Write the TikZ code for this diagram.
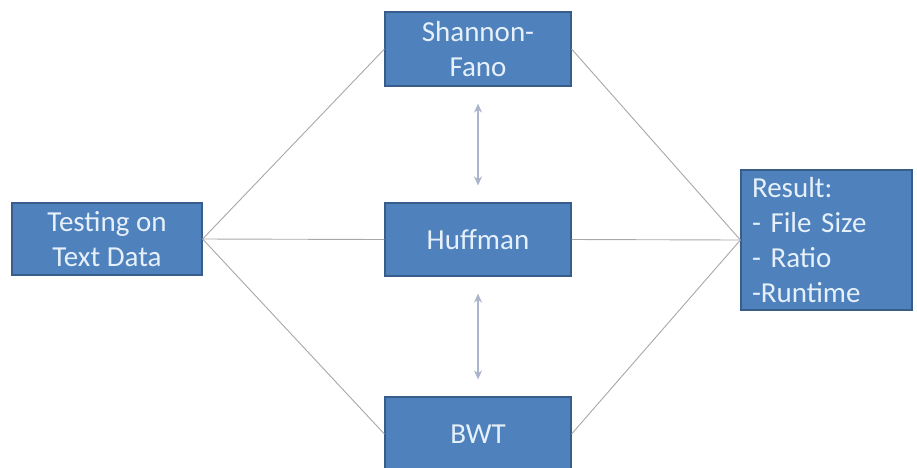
\documentclass[tikz,border=0pt]{standalone}
\usepackage{fontspec}
\setmainfont{Carlito}
\usetikzlibrary{arrows.meta}
\definecolor{boxfill}{HTML}{4F81BD}
\definecolor{boxdraw}{HTML}{385D8A}
\definecolor{boxtext}{HTML}{E6F0FA}
\definecolor{linegray}{HTML}{A8A8A8}
\definecolor{arrowgray}{HTML}{A9B6C9}
\tikzset{
  blockbox/.style={draw=boxdraw, line width=1.2pt, fill=boxfill, text=boxtext,
    font=\fontsize{29}{35}\selectfont, align=center, inner sep=0pt},
  linkline/.style={draw=linegray, line width=0.9pt},
  biarrow/.style={draw=arrowgray, line width=1.4pt, {Stealth[length=9pt,width=8pt]}-{Stealth[length=9pt,width=8pt]}, shorten >=17pt, shorten <=17pt}
}
\begin{document}
\begin{tikzpicture}[x=1pt,y=-1pt]
\useasboundingbox[fill=white] (0,0) rectangle (917,467);
\node[blockbox, minimum width=190pt, minimum height=72pt] (test) at (107,239) {Testing on\\Text Data};
\node[blockbox, minimum width=186pt, minimum height=74pt] (sf) at (478,49) {Shannon-\\Fano};
\node[blockbox, minimum width=186pt, minimum height=73pt] (huff) at (478,239.5) {Huffman};
\node[blockbox, minimum width=186pt, minimum height=74pt] (bwt) at (478,434) {BWT};
\node[blockbox, minimum width=171pt, minimum height=140pt, text width=149pt, align=left] (res) at (826.5,240) {Result:\\- File Size\\- Ratio\\-Runtime};
\draw[linkline] (test.east) -- (sf.west);
\draw[linkline] (test.east) -- (huff.west);
\draw[linkline] (test.east) -- (bwt.west);
\draw[linkline] (sf.east) -- (res.west);
\draw[linkline] (huff.east) -- (res.west);
\draw[linkline] (bwt.east) -- (res.west);
\draw[biarrow] (sf.south) -- (huff.north);
\draw[biarrow] (huff.south) -- (bwt.north);
\end{tikzpicture}
\end{document}
